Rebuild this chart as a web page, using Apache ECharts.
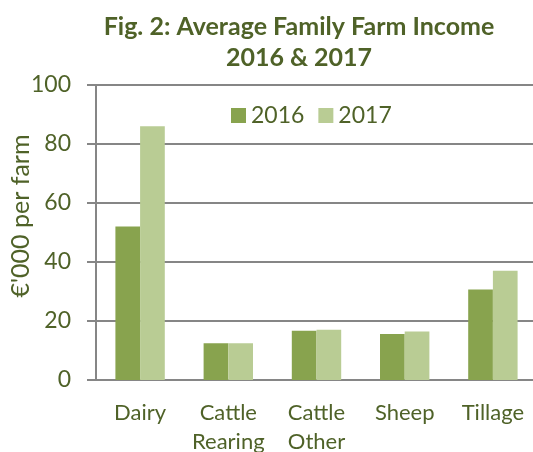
<!DOCTYPE html>
<html>
<head>
    <meta charset="utf-8">
    <title>Average Family Farm Income</title>
    <script type="text/javascript" src="https://cdn.jsdelivr.net/npm/echarts@6/dist/echarts.min.js"></script>
    <style>
        html, body { margin: 0; padding: 0; background: #fff; }
    </style>
</head>
<body>
<div id="main" style="width:533px; height:452px;"></div>
<script type="text/javascript">
var categories = ['Dairy', 'Cattle\nRearing', 'Cattle\nOther', 'Sheep', 'Tillage'];
var income2016 = [52, 12.5, 16.7, 15.6, 30.7];
var income2017 = [86, 12.5, 17.0, 16.4, 37];
var yTicks = [0, 20, 40, 60, 80, 100];

var textColor = '#4F6228';
var axisColor = '#868686';
var font = 'Lato, "Open Sans", sans-serif';

var myChart = echarts.init(document.getElementById('main'));
var option = {
    animation: false,
    title: {
        text: 'Fig. 2: Average Family Farm Income\n2016 & 2017',
        left: 294,
        textAlign: 'center',
        top: 6,
        textStyle: {
            color: textColor,
            fontFamily: font,
            fontWeight: 'bold',
            fontSize: 25,
            lineHeight: 31
        }
    },
    legend: {
        data: ['2016', '2017'],
        left: 226,
        top: 99,
        itemWidth: 15,
        itemHeight: 15,
        itemGap: 14,
        icon: 'rect',
        textStyle: {
            color: textColor,
            fontFamily: font,
            fontSize: 23
        }
    },
    grid: {
        left: 96,
        right: -4,
        top: 85,
        bottom: 72,
        containLabel: false,
        outerBoundsMode: 'none'
    },
    xAxis: {
        type: 'category',
        data: categories,
        axisLine: { lineStyle: { color: axisColor, width: 2 } },
        axisTick: { show: false },
        axisLabel: {
            color: textColor,
            fontFamily: font,
            fontSize: 22,
            lineHeight: 29,
            margin: 18,
            interval: 0
        }
    },
    yAxis: {
        type: 'value',
        min: yTicks[0],
        max: yTicks[yTicks.length - 1],
        interval: 20,
        axisLine: { show: true, lineStyle: { color: axisColor, width: 2 } },
        axisTick: { show: true, length: 9, lineStyle: { color: axisColor, width: 2 } },
        splitLine: { lineStyle: { color: axisColor, width: 2 } },
        axisLabel: {
            color: textColor,
            fontFamily: font,
            fontSize: 23,
            margin: 25
        }
    },
    graphic: [{
        type: 'text',
        x: 21,
        y: 216,
        rotation: Math.PI / 2,
        style: {
            text: "€'000 per farm",
            fill: textColor,
            font: '25px ' + font,
            textAlign: 'center',
            textVerticalAlign: 'middle'
        }
    }],
    series: [{
        name: '2016',
        type: 'bar',
        data: income2016,
        barGap: '0%',
        barCategoryGap: '44%',
        itemStyle: { color: '#88A34E' }
    }, {
        name: '2017',
        type: 'bar',
        data: income2017,
        itemStyle: { color: '#B9CC94' }
    }]
};
myChart.setOption(option);
</script>
</body>
</html>
